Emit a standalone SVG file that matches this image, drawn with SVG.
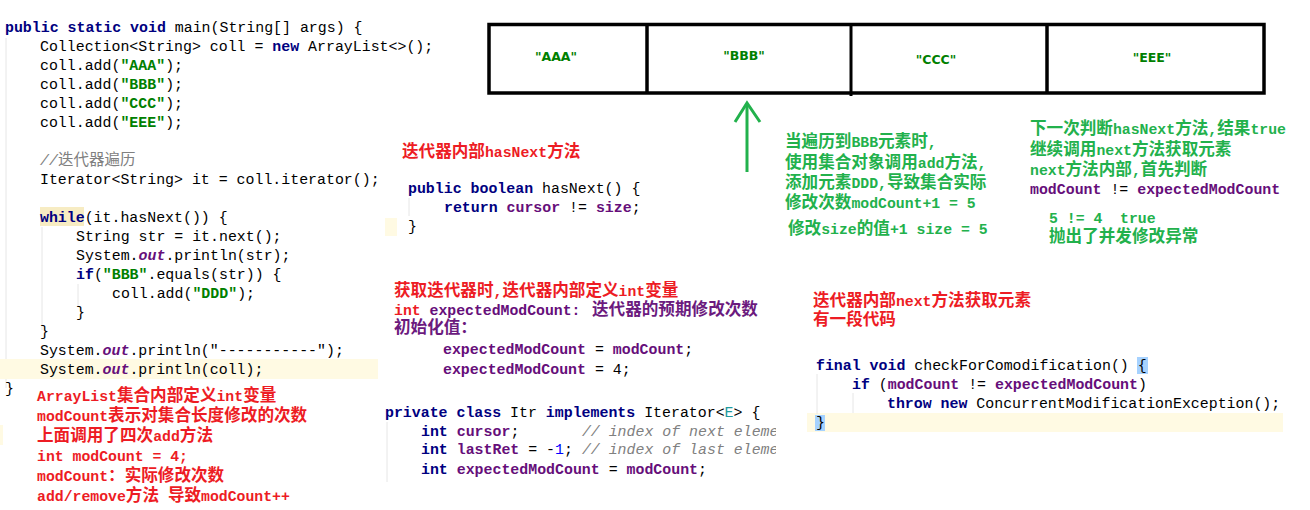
<svg xmlns="http://www.w3.org/2000/svg" width="1310" height="510" viewBox="0 0 1310 510">
<style>
.code{font-family:"Liberation Mono",monospace;font-size:14.9px;fill:#000;white-space:pre}
.kw{font-weight:bold;fill:#000080}
.str{font-weight:bold;fill:#008000}
.fld{font-weight:bold;fill:#660E7A}
.sf{font-weight:bold;font-style:italic;fill:#660E7A}
.cmt{font-style:italic;fill:#808080}
.gray{fill:#808080}
.num{fill:#0000FF}
.tp{fill:#20999D}
.note{font-family:"Liberation Mono","Noto Sans CJK SC",monospace;font-weight:bold;font-size:14.8px;white-space:pre}
.c{font-family:"Noto Sans CJK SC",sans-serif;font-size:16.6px}
.red{fill:#ED1C24}
.grn{fill:#22B14C}
.pur{fill:#6B1A7E}
.cell{font-family:"DejaVu Sans",sans-serif;font-weight:bold;font-size:12.5px;fill:#008000;text-anchor:middle}
.guide{stroke:#E6E6E6;stroke-width:1}
.hl{fill:#FFFAE3}
.bl{fill:#A6D2FF}
</style>
<defs>
<clipPath id="clipItr"><rect x="380" y="395" width="396" height="90"/></clipPath>
</defs>

<g id="main-code">
<line class="guide" x1="6" y1="38" x2="6" y2="388"/>
<line class="guide" x1="42" y1="227" x2="42" y2="330"/>
<line class="guide" x1="78" y1="284" x2="78" y2="306"/>
<rect x="40" y="207" width="44" height="19" fill="#F7ECC3"/>
<rect class="hl" x="0" y="359" width="378" height="20"/>
<rect class="hl" x="0" y="425" width="3" height="20"/>
<text class="code" x="5" y="32" xml:space="preserve"><tspan class="kw">public static void</tspan> main(String[] args) {</text>
<text class="code" x="40" y="51" xml:space="preserve">Collection&lt;String&gt; coll = <tspan class="kw">new</tspan> ArrayList&lt;&gt;();</text>
<text class="code" x="40" y="70">coll.add(<tspan class="str">"AAA"</tspan>);</text>
<text class="code" x="40" y="89">coll.add(<tspan class="str">"BBB"</tspan>);</text>
<text class="code" x="40" y="108">coll.add(<tspan class="str">"CCC"</tspan>);</text>
<text class="code" x="40" y="127">coll.add(<tspan class="str">"EEE"</tspan>);</text>
<text class="code gray" x="40" y="165"><tspan class="cmt">//</tspan><tspan font-family="Noto Sans CJK SC, sans-serif" font-size="15.5px">迭代器遍历</tspan></text>
<text class="code" x="40" y="184" xml:space="preserve">Iterator&lt;String&gt; it = coll.iterator();</text>
<text class="code" x="40" y="222" xml:space="preserve"><tspan class="kw">while</tspan>(it.hasNext()) {</text>
<text class="code" x="76" y="241" xml:space="preserve">String str = it.next();</text>
<text class="code" x="76" y="260">System.<tspan class="sf">out</tspan>.println(str);</text>
<text class="code" x="76" y="279" xml:space="preserve"><tspan class="kw">if</tspan>(<tspan class="str">"BBB"</tspan>.equals(str)) {</text>
<text class="code" x="112" y="298">coll.add(<tspan class="str">"DDD"</tspan>);</text>
<text class="code" x="76" y="317">}</text>
<text class="code" x="40" y="336">}</text>
<text class="code" x="40" y="355">System.<tspan class="sf">out</tspan>.println("-----------");</text>
<text class="code" x="40" y="374">System.<tspan class="sf">out</tspan>.println(coll);</text>
<text class="code" x="5" y="393">}</text>
</g>

<g id="modcount-note">
<text class="note red" x="37" y="400.5">ArrayList<tspan class="c">集合内部定义</tspan>int<tspan class="c">变量</tspan></text>
<text class="note red" x="37" y="420.5">modCount<tspan class="c">表示对集合长度修改的次数</tspan></text>
<text class="note red" x="37" y="440.5"><tspan class="c">上面调用了四次</tspan>add<tspan class="c">方法</tspan></text>
<text class="note red" x="37" y="460.5" xml:space="preserve">int modCount = 4;</text>
<text class="note red" x="37" y="480.5">modCount<tspan class="c">：实际修改次数</tspan></text>
<text class="note red" x="37" y="500.5" xml:space="preserve">add/remove<tspan class="c">方法</tspan> <tspan class="c">导致</tspan>modCount++</text>
</g>

<g id="array">
<rect x="489" y="24.5" width="775" height="68.5" fill="#fff" stroke="#000" stroke-width="3.5"/>
<line x1="647" y1="24.5" x2="647" y2="93" stroke="#000" stroke-width="3.5"/>
<line x1="851" y1="24.5" x2="851" y2="96" stroke="#000" stroke-width="3"/>
<line x1="1047" y1="24.5" x2="1047" y2="93" stroke="#000" stroke-width="3.5"/>
<text class="cell" x="556" y="61">"AAA"</text>
<text class="cell" x="744" y="60">"BBB"</text>
<text class="cell" x="936" y="64">"CCC"</text>
<text class="cell" x="1152" y="62">"EEE"</text>
</g>

<g id="connectors">
<line x1="747" y1="172" x2="747" y2="104" stroke="#22B14C" stroke-width="3"/>
<polyline points="735,122 747,103 760,122" fill="none" stroke="#22B14C" stroke-width="3"/>
</g>

<g id="bbb-note">
<text class="note grn" x="785" y="147"><tspan class="c">当遍历到</tspan>BBB<tspan class="c">元素时</tspan>,</text>
<text class="note grn" x="785" y="167.5"><tspan class="c">使用集合对象调用</tspan>add<tspan class="c">方法</tspan>,</text>
<text class="note grn" x="785" y="187.5"><tspan class="c">添加元素</tspan>DDD,<tspan class="c">导致集合实际</tspan></text>
<text class="note grn" x="785" y="207.5" xml:space="preserve"><tspan class="c">修改次数</tspan>modCount+1 = 5</text>
<text class="note grn" x="788" y="233.5" xml:space="preserve"><tspan class="c">修改</tspan>size<tspan class="c">的值</tspan>+1 size = 5</text>
</g>

<g id="next-note">
<text class="note grn" x="1030" y="134"><tspan class="c">下一次判断</tspan>hasNext<tspan class="c">方法</tspan>,<tspan class="c">结果</tspan>true</text>
<text class="note grn" x="1030" y="155"><tspan class="c">继续调用</tspan>next<tspan class="c">方法获取元素</tspan></text>
<text class="note grn" x="1030" y="175">next<tspan class="c">方法内部</tspan>,<tspan class="c">首先判断</tspan></text>
<text class="code" x="1030" y="194" xml:space="preserve"><tspan class="fld">modCount</tspan> != <tspan class="fld">expectedModCount</tspan></text>
<text class="note grn" x="1049" y="222.5" xml:space="preserve">5 != 4  true</text>
<text class="note grn" x="1049" y="242"><tspan class="c">抛出了并发修改异常</tspan></text>
</g>

<g id="hasnext">
<text class="note red" x="402" y="157"><tspan class="c">迭代器内部</tspan>hasNext<tspan class="c">方法</tspan></text>
<rect class="hl" x="385" y="218" width="12" height="18"/>
<line class="guide" x1="409" y1="198" x2="409" y2="216"/>
<text class="code" x="408" y="193" xml:space="preserve"><tspan class="kw">public boolean</tspan> hasNext() {</text>
<text class="code" x="444" y="212" xml:space="preserve"><tspan class="kw">return</tspan> <tspan class="fld">cursor</tspan> != <tspan class="fld">size</tspan>;</text>
<text class="code" x="408" y="231">}</text>
</g>

<g id="expected-note">
<text class="note red" x="394" y="295.5"><tspan class="c">获取迭代器时</tspan>,<tspan class="c">迭代器内部定义</tspan>int<tspan class="c">变量</tspan></text>
<text class="note" x="394" y="315" xml:space="preserve"><tspan class="red">int</tspan> <tspan fill="#660E7A">expectedModCount:</tspan><tspan class="c pur" x="592">迭代器的预期修改次数</tspan></text>
<text class="note pur" x="394" y="333"><tspan class="c">初始化值：</tspan></text>
<text class="code" x="443" y="354" xml:space="preserve"><tspan class="fld">expectedModCount</tspan> = <tspan class="fld">modCount</tspan>;</text>
<text class="code" x="443" y="374" xml:space="preserve"><tspan class="fld">expectedModCount</tspan> = 4;</text>
</g>

<g id="itr-class">
<line class="guide" x1="387" y1="422" x2="387" y2="482"/>
<text class="code" x="385" y="416.5" xml:space="preserve"><tspan class="kw">private class</tspan> Itr <tspan class="kw">implements</tspan> Iterator&lt;<tspan class="tp">E</tspan>&gt; {</text>
<g clip-path="url(#clipItr)">
<text class="code" x="421" y="435.5" xml:space="preserve"><tspan class="kw">int</tspan> <tspan class="fld">cursor</tspan>;       <tspan class="cmt">// index of next element</tspan></text>
<text class="code" x="421" y="454" xml:space="preserve"><tspan class="kw">int</tspan> <tspan class="fld">lastRet</tspan> = -<tspan class="num">1</tspan>; <tspan class="cmt">// index of last element</tspan></text>
</g>
<text class="code" x="421" y="473.5" xml:space="preserve"><tspan class="kw">int</tspan> <tspan class="fld">expectedModCount</tspan> = <tspan class="fld">modCount</tspan>;</text>
</g>

<g id="check-comod">
<text class="note red" x="813" y="305.5"><tspan class="c">迭代器内部</tspan>next<tspan class="c">方法获取元素</tspan></text>
<text class="note red" x="813" y="325"><tspan class="c">有一段代码</tspan></text>
<rect class="hl" x="807" y="413" width="476" height="19"/>
<rect class="bl" x="1137" y="357" width="11" height="17"/>
<rect class="bl" x="815" y="415" width="10" height="16"/>
<line class="guide" x1="817" y1="374" x2="817" y2="414"/>
<line class="guide" x1="853" y1="393" x2="853" y2="413"/>
<text class="code" x="816" y="370" xml:space="preserve"><tspan class="kw">final void</tspan> checkForComodification() {</text>
<text class="code" x="852" y="389" xml:space="preserve"><tspan class="kw">if</tspan> (<tspan class="fld">modCount</tspan> != <tspan class="fld">expectedModCount</tspan>)</text>
<text class="code" x="887" y="408" xml:space="preserve"><tspan class="kw">throw new</tspan> ConcurrentModificationException();</text>
<text class="code" x="816" y="427">}</text>
</g>
</svg>
